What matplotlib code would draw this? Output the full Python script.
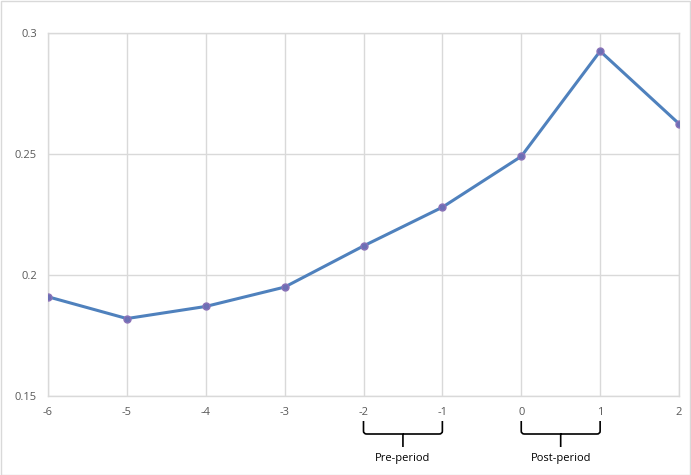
import matplotlib.pyplot as plt
import matplotlib.transforms as mtransforms
from matplotlib.path import Path
from matplotlib.patches import PathPatch, Rectangle

plt.rcParams['font.family'] = ['Open Sans', 'DejaVu Sans']

periods = [-6, -5, -4, -3, -2, -1, 0, 1, 2]
values = [0.191, 0.182, 0.187, 0.195, 0.212, 0.228, 0.249, 0.2925, 0.2625]
y_ticks = [0.15, 0.2, 0.25, 0.3]
y_labels = ['0.15', '0.2', '0.25', '0.3']
brackets = [(-2, -1, 'Pre-period'), (0, 1, 'Post-period')]

fig = plt.figure(figsize=(6.91, 4.75), dpi=100)
ax = fig.add_axes([48 / 691, 1 - 396 / 475, 631 / 691, 363 / 475])

ax.plot(periods, values, color='#4f81bd', linewidth=2.2, marker='o',
        markersize=5, markerfacecolor='#6b6fb5', markeredgecolor='#8a72b8',
        zorder=3)

ax.set_xlim(-6, 2)
ax.set_ylim(0.15, 0.3)
ax.set_xticks(periods)
ax.set_xticklabels([str(p) for p in periods])
ax.set_yticks(y_ticks)
ax.set_yticklabels(y_labels)
ax.grid(True, color='#d9d9d9', linewidth=1)
ax.tick_params(length=0, labelsize=8, labelcolor='#595959', pad=8)
for s in ax.spines.values():
    s.set_color('#d9d9d9')
    s.set_linewidth(1)

# braces under the x axis
tr = mtransforms.blended_transform_factory(ax.transData, fig.transFigure)
y_top = 1 - 421 / 475
y_mid = 1 - 434 / 475
y_bot = 1 - 447 / 475
y_txt = 1 - 458 / 475
for x0, x1, label in brackets:
    xm = (x0 + x1) / 2
    r = 0.04
    verts = [(x0, y_top), (x0, y_mid + 0.006), (x0, y_mid), (x0 + r, y_mid),
             (xm, y_mid), (xm, y_bot),
             (xm, y_mid), (x1 - r, y_mid), (x1, y_mid), (x1, y_mid + 0.006),
             (x1, y_top)]
    codes = [Path.MOVETO, Path.LINETO, Path.CURVE3, Path.CURVE3,
             Path.LINETO, Path.LINETO,
             Path.MOVETO, Path.LINETO, Path.CURVE3, Path.CURVE3,
             Path.LINETO]
    fig.add_artist(PathPatch(Path(verts, codes), transform=tr, fill=False,
                             edgecolor='black', linewidth=1.2))
    fig.text(xm, y_txt, label, transform=tr, ha='center', va='center',
             fontsize=8, color='black')

fig.add_artist(Rectangle((0.001, 0.001), 0.998, 0.997, transform=fig.transFigure,
                         fill=False, edgecolor='#d9d9d9', linewidth=1))

fig.savefig('out.png', dpi=100)
